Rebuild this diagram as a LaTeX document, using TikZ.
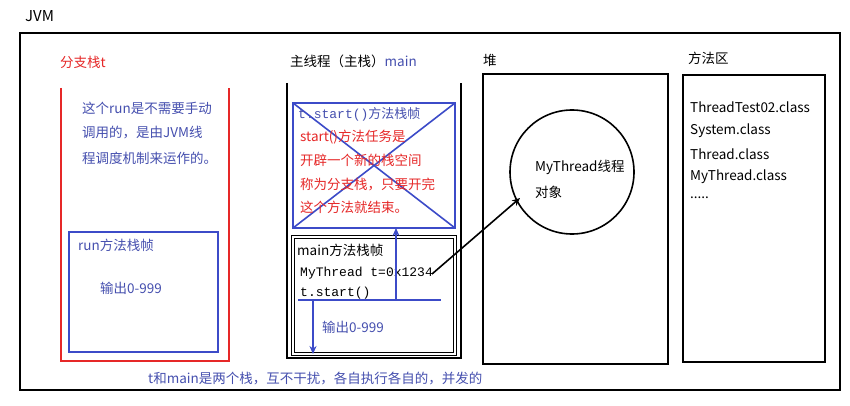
\documentclass[tikz,border=0pt]{standalone}
\usepackage{fontspec}
\setmainfont{Noto Sans CJK SC}
\setmonofont{Liberation Mono}
\usetikzlibrary{arrows.meta}
\begin{document}
\begin{tikzpicture}[x=1pt,y=-1pt,
  txt/.style={anchor=west,inner sep=0pt,font=\fontsize{13.5}{15}\selectfont},
  code/.style={anchor=west,inner sep=0pt,font=\ttfamily\fontsize{13}{15}\selectfont},
  bl/.style={draw=myblue,line width=1.6pt},
  arr/.style={-{Stealth[length=8pt,width=7pt]}}]
\definecolor{myblue}{RGB}{60,75,200}
\definecolor{tblue}{RGB}{70,80,175}
\definecolor{myred}{RGB}{230,40,40}
\useasboundingbox[fill=white] (0,0) rectangle (850,406);
\node[txt,font=\fontsize{15}{17}\selectfont] (jvm) at (25,16) {JVM};
\draw[line width=1.6pt] (20,33) rectangle (840,390);
% branch stack
\node[txt,text=myred] (bt) at (60,62) {分支栈t};
\draw[myred,line width=1.6pt] (61,88) -- (61,361) -- (229,361) -- (229,88);
\node[txt,text=tblue] (r1) at (82,108) {这个run是不需要手动};
\node[txt,text=tblue] (r2) at (82,133) {调用的，是由JVM线};
\node[txt,text=tblue] (r3) at (82,158) {程调度机制来运作的。};
\draw[bl] (69,232) rectangle (218,352);
\node[txt,text=tblue] (rf) at (78,245) {run方法栈帧};
\node[txt,text=tblue] (ro) at (100,288) {输出0-999};
% main stack
\node[txt] (mt) at (290,61) {主线程（主栈）\textcolor{tblue}{main}};
\draw[line width=2pt] (287,83) -- (287,358) -- (461,358) -- (461,83);
\draw[bl] (293,103) rectangle (455,228);
\draw[bl] (293,103) -- (455,228) (293,228) -- (455,103);
\node[code,text=tblue] (ts) at (298,114) {t.start()\rmfamily 方法栈帧};
\node[txt,text=myred] (s1) at (300,137) {start()方法任务是};
\node[txt,text=myred] (s2) at (300,160) {开辟一个新的栈空间};
\node[txt,text=myred] (s3) at (300,184) {称为分支栈，只要开完};
\node[txt,text=myred] (s4) at (300,207) {这个方法就结束。};
\draw[line width=1.4pt,double,double distance=1.2pt] (293,237) rectangle (455,354);
\node[txt] (mf) at (297,250) {main方法栈帧};
\node[code] (c1) at (300,273) {MyThread t=0x1234};
\node[code] (c2) at (300,293) {t.start()};
\draw[bl] (298,300) coordinate (la) -- (441,300) coordinate (lb);
\coordinate (up0) at (396,300); \coordinate (up1) at (396,228);
\draw[bl,arr] (up0) -- (up1);
\coordinate (dn0) at (313,300); \coordinate (dn1) at (313,354);
\draw[bl,arr] (dn0) -- (dn1);
\node[txt,text=tblue] (mo) at (322,327) {输出0-999};
% heap
\node[txt] (hp) at (483,60) {堆};
\draw[line width=1.6pt] (483,74) rectangle (668,364);
\node[draw,circle,line width=1.6pt,minimum size=124pt] (obj) at (572,172) {};
\node[txt] (o1) at (535,167) {MyThread线程};
\node[txt] (o2) at (535,192) {对象};
\coordinate (ref) at (432,274);
\draw[line width=1.6pt,arr] (ref) -- (520,198);
% method area
\node[txt] (ma) at (688,58) {方法区};
\draw[line width=1.6pt] (683,75) rectangle (825,362);
\node[txt] (m1) at (690,107) {ThreadTest02.class};
\node[txt] (m2) at (690,131) {System.class};
\node[txt] (m3) at (690,154) {Thread.class};
\node[txt] (m4) at (690,177) {MyThread.class};
\node[txt] (m5) at (690,198) {.....};
\node[txt,text=tblue] (bot) at (148,378) {t和main是两个栈，互不干扰，各自执行各自的，并发的};
\end{tikzpicture}
\end{document}
